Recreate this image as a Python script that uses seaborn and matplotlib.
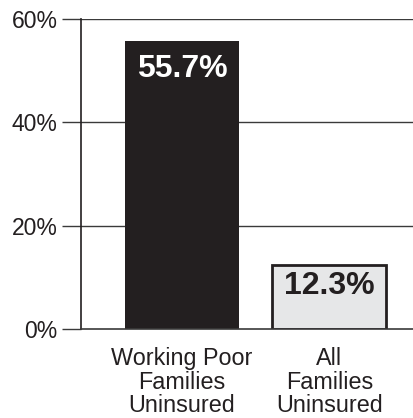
import matplotlib
matplotlib.use("Agg")
import matplotlib.pyplot as plt
import seaborn as sns
import pandas as pd

categories = ["Working Poor\nFamilies\nUninsured", "All\nFamilies\nUninsured"]
values = [55.7, 12.3]
value_labels = ["55.7%", "12.3%"]
tick_values = [0, 20, 40, 60]
tick_labels = ["0%", "20%", "40%", "60%"]

bar_colors = ["#231f20", "#e6e7e8"]
label_colors = ["white", "#231f20"]

sns.set_theme(style="white")
plt.rcParams["font.family"] = ["Liberation Sans", "DejaVu Sans"]

df = pd.DataFrame({"group": categories, "pct": values})

fig = plt.figure(figsize=(4.14, 4.18), dpi=100)
ax = fig.add_axes([81 / 414, 1 - 329 / 418, 1 - 81 / 414, (329 - 19) / 418])

sns.barplot(data=df, x="group", y="pct", hue="group", palette=bar_colors,
            width=0.773, saturation=1, legend=False, ax=ax, linewidth=0)

for patch, color in zip(ax.patches, bar_colors):
    if color != bar_colors[0]:
        patch.set_edgecolor("#231f20")
        patch.set_linewidth(2.0)

ax.set_xlim(-0.685, 1.573)
ax.set_ylim(0, 60)
ax.set_yticks(tick_values)
ax.set_yticklabels(tick_labels)
ax.set_xlabel("")
ax.set_ylabel("")

for y in tick_values[1:]:
    ax.axhline(y, color="#3a3a3a", linewidth=1.0, zorder=0.5)

for side in ["top", "right"]:
    ax.spines[side].set_visible(False)
ax.spines["left"].set_color("#231f20")
ax.spines["left"].set_linewidth(1.2)
ax.spines["bottom"].set_color("#3a3a3a")
ax.spines["bottom"].set_linewidth(1.2)

ax.tick_params(axis="y", which="major", left=True, length=13.7, width=1.0,
               color="#3a3a3a", pad=3, labelsize=16.5, labelcolor="#231f20")
ax.tick_params(axis="x", length=0, pad=13, labelsize=16.8, labelcolor="#231f20")
for lbl in ax.get_xticklabels():
    lbl.set_linespacing(1.03)

# value labels inside the top of each bar
offsets = [9.0, 4.0]
for i, (v, txt) in enumerate(zip(values, value_labels)):
    ax.annotate(txt, xy=(i, v), xytext=(0, -offsets[i]), textcoords="offset points",
                ha="center", va="top", fontsize=23, fontweight="bold",
                color=label_colors[i])

fig.savefig("out.png", dpi=100)
